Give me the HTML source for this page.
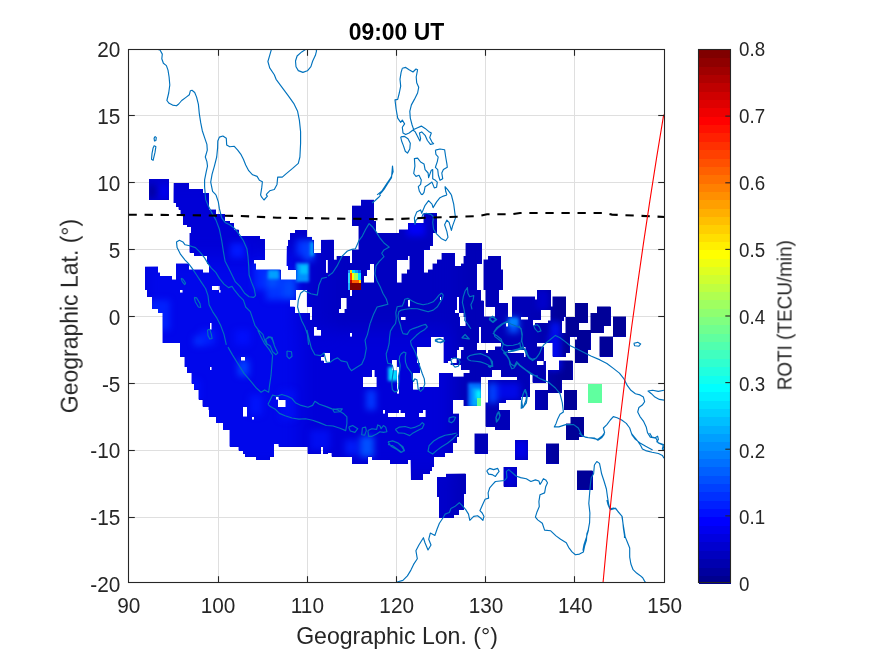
<!DOCTYPE html><html><head><meta charset="utf-8"><title>ROTI map</title>
<style>html,body{margin:0;padding:0;background:#fff}svg{display:block}text{font-family:"Liberation Sans",sans-serif;fill:#262626}.tx{filter:url(#idf)}</style></head><body>
<svg width="875" height="656" viewBox="0 0 875 656">
<defs><filter id="idf" x="0" y="0" width="875" height="656" filterUnits="userSpaceOnUse" color-interpolation-filters="sRGB"><feOffset dx="0" dy="0"/></filter></defs>
<rect x="0" y="0" width="875" height="656" fill="#fff"/>
<g stroke="#dfdfdf" stroke-width="1" shape-rendering="crispEdges">
<line x1="218.5" y1="49.5" x2="218.5" y2="582.5"/>
<line x1="307.5" y1="49.5" x2="307.5" y2="582.5"/>
<line x1="396.5" y1="49.5" x2="396.5" y2="582.5"/>
<line x1="485.5" y1="49.5" x2="485.5" y2="582.5"/>
<line x1="574.5" y1="49.5" x2="574.5" y2="582.5"/>
<line x1="128.5" y1="517.5" x2="664.5" y2="517.5"/>
<line x1="128.5" y1="450.5" x2="664.5" y2="450.5"/>
<line x1="128.5" y1="383.5" x2="664.5" y2="383.5"/>
<line x1="128.5" y1="316.5" x2="664.5" y2="316.5"/>
<line x1="128.5" y1="249.5" x2="664.5" y2="249.5"/>
<line x1="128.5" y1="182.5" x2="664.5" y2="182.5"/>
<line x1="128.5" y1="115.5" x2="664.5" y2="115.5"/>
</g>
<clipPath id="cp"><rect x="128.5" y="49.5" width="536.0" height="533.0"/></clipPath>
<g clip-path="url(#cp)">
<path id="blob" d="M149 179H169V183H149ZM149 183H169V189H149ZM173.5 183H189V189H173.5ZM149 189H169V193H149ZM173.5 189H203V193H173.5ZM149 193H169V199.5H149ZM173.5 193H209V199.5H173.5ZM173.5 199.5H209V203H173.5ZM361 199.5H374V203H361ZM176 203H209V205.5H176ZM361 203H374V205.5H361ZM176 205.5H209V206.5H176ZM352 205.5H374V206.5H352ZM178.5 206.5H209V209.5H178.5ZM352 206.5H374V209.5H352ZM180.5 209.5H216V213H180.5ZM352 209.5H374V213H352ZM180.5 213H216V214H180.5ZM352 213H374V214H352ZM423.5 213H437V214H423.5ZM183 214H225V221H183ZM352 214H374V221H352ZM423.5 214H437V221H423.5ZM183 221H229.5V223H183ZM352 221H376V223H352ZM423.5 221H437V223H423.5ZM183 223H234V225H183ZM352 223H376V225H352ZM408 223H437V225H408ZM187 225H234V226H187ZM352 225H376V226H352ZM408 225H437V226H408ZM187 226H234V226.5H187ZM358.5 226H376V226.5H358.5ZM408 226H437V226.5H408ZM191 226.5H234V229.5H191ZM358.5 226.5H376V229.5H358.5ZM408 226.5H437V229.5H408ZM191 229.5H238.5V233H191ZM294.5 229.5H307V233H294.5ZM358.5 229.5H376V233H358.5ZM399 229.5H437V233H399ZM189.5 233H238.5V236H189.5ZM290 233H307V236H290ZM358.5 233H432.5V236H358.5ZM189.5 236H260V236.5H189.5ZM290 236H307V236.5H290ZM358.5 236H432.5V236.5H358.5ZM189.5 236.5H260V239H189.5ZM290 236.5H312V239H290ZM358.5 236.5H432.5V239H358.5ZM189.5 239H265V239.5H189.5ZM290 239H312V239.5H290ZM358.5 239H432.5V239.5H358.5ZM189.5 239.5H265V243H189.5ZM288 239.5H313.5V243H288ZM321 239.5H333.5V243H321ZM358.5 239.5H432.5V243H358.5ZM189.5 243H265V246H189.5ZM288 243H313.5V246H288ZM321 243H333.5V246H321ZM358.5 243H432.5V246H358.5ZM465.5 243H481.5V246H465.5ZM189.5 246H265V249.5H189.5ZM286.5 246H313.5V249.5H286.5ZM321 246H333.5V249.5H321ZM358.5 246H429.5V249.5H358.5ZM465.5 246H481.5V249.5H465.5ZM189.5 249.5H265V252.5H189.5ZM286.5 249.5H313.5V252.5H286.5ZM321 249.5H333.5V252.5H321ZM352 249.5H423.5V252.5H352ZM465.5 249.5H481.5V252.5H465.5ZM194 252.5H265V253H194ZM286.5 252.5H313.5V253H286.5ZM321 252.5H333.5V253H321ZM352 252.5H423.5V253H352ZM465.5 252.5H481.5V253H465.5ZM194 253H265V256H194ZM286.5 253H333.5V256H286.5ZM352 253H423.5V256H352ZM441.5 253H454.5V256H441.5ZM465.5 253H481.5V256H465.5ZM207 256H265V259.5H207ZM286.5 256H333.5V259.5H286.5ZM336.5 256H350V259.5H336.5ZM352 256H408V259.5H352ZM409.5 256H423.5V259.5H409.5ZM441.5 256H454.5V259.5H441.5ZM463.5 256H481.5V259.5H463.5ZM488 256H501V259.5H488ZM207 259.5H254V263H207ZM286.5 259.5H325.5V263H286.5ZM327.5 259.5H350V263H327.5ZM352 259.5H397V263H352ZM409.5 259.5H423.5V263H409.5ZM437 259.5H454.5V263H437ZM463.5 259.5H481.5V263H463.5ZM483.5 259.5H501V263H483.5ZM207 263H254V263.5H207ZM286.5 263H325.5V263.5H286.5ZM327.5 263H397V263.5H327.5ZM409.5 263H423.5V263.5H409.5ZM437 263H454.5V263.5H437ZM463.5 263H481.5V263.5H463.5ZM483.5 263H501V263.5H483.5ZM176 263.5H189V266H176ZM209 263.5H256V266H209ZM286.5 263.5H325.5V266H286.5ZM327.5 263.5H369.5V266H327.5ZM374 263.5H397V266H374ZM409.5 263.5H423.5V266H409.5ZM432.5 263.5H454.5V266H432.5ZM461 263.5H476.5V266H461ZM483.5 263.5H501V266H483.5ZM176 266H189V266.5H176ZM209 266H256V266.5H209ZM288 266H325.5V266.5H288ZM327.5 266H369.5V266.5H327.5ZM374 266H397V266.5H374ZM409.5 266H423.5V266.5H409.5ZM432.5 266H476.5V266.5H432.5ZM483.5 266H501V266.5H483.5ZM145 266.5H158V269.5H145ZM176 266.5H189V269.5H176ZM209 266.5H256V269.5H209ZM288 266.5H325.5V269.5H288ZM327.5 266.5H369.5V269.5H327.5ZM374 266.5H397V269.5H374ZM409.5 266.5H423.5V269.5H409.5ZM432.5 266.5H476.5V269.5H432.5ZM483.5 266.5H501V269.5H483.5ZM145 269.5H158V272.5H145ZM176 269.5H203V272.5H176ZM209 269.5H280.5V272.5H209ZM296 269.5H325.5V272.5H296ZM327.5 269.5H366.5V272.5H327.5ZM374 269.5H397V272.5H374ZM407 269.5H423.5V272.5H407ZM428 269.5H476.5V272.5H428ZM483.5 269.5H503V272.5H483.5ZM145 272.5H160V273.5H145ZM176 272.5H280.5V273.5H176ZM296 272.5H366.5V273.5H296ZM374 272.5H397V273.5H374ZM407 272.5H476.5V273.5H407ZM483.5 272.5H503V273.5H483.5ZM145 273.5H160V276H145ZM176 273.5H280.5V276H176ZM296 273.5H366.5V276H296ZM374 273.5H397V276H374ZM401.5 273.5H476.5V276H401.5ZM483.5 273.5H503V276H483.5ZM145 276H172V279.5H145ZM176 276H280.5V279.5H176ZM296 276H364V279.5H296ZM374 276H397V279.5H374ZM401.5 276H476.5V279.5H401.5ZM483.5 276H503V279.5H483.5ZM145 279.5H364V282.5H145ZM374 279.5H397V282.5H374ZM401.5 279.5H476.5V282.5H401.5ZM483.5 279.5H503V282.5H483.5ZM145 282.5H476.5V286H145ZM483.5 282.5H503V286H483.5ZM145 286H212V290H145ZM219.5 286H476.5V290H219.5ZM483.5 286H503V290H483.5ZM147 290H180V292.5H147ZM182.5 290H218.5V292.5H182.5ZM220.5 290H296V292.5H220.5ZM306.5 290H350V292.5H306.5ZM352 290H481V292.5H352ZM485.5 290H499V292.5H485.5ZM537 290H550.5V292.5H537ZM147 292.5H296V296H147ZM306.5 292.5H350V296H306.5ZM352 292.5H481V296H352ZM485.5 292.5H499V296H485.5ZM537 292.5H550.5V296H537ZM147 296H296V296.5H147ZM306.5 296H481V296.5H306.5ZM485.5 296H499V296.5H485.5ZM537 296H550.5V296.5H537ZM152 296.5H296V298H152ZM306.5 296.5H439.5V298H306.5ZM441 296.5H456.5V298H441ZM459 296.5H481V298H459ZM485.5 296.5H499V298H485.5ZM512 296.5H535V298H512ZM537 296.5H550.5V298H537ZM552.5 296.5H566V298H552.5ZM152 298H296V299.5H152ZM306.5 298H341V299.5H306.5ZM346.5 298H439.5V299.5H346.5ZM441 298H456.5V299.5H441ZM459 298H481V299.5H459ZM485.5 298H499V299.5H485.5ZM512 298H535V299.5H512ZM537 298H550.5V299.5H537ZM552.5 298H566V299.5H552.5ZM152 299.5H296V300H152ZM306.5 299.5H341V300H306.5ZM346.5 299.5H439.5V300H346.5ZM441 299.5H456.5V300H441ZM459 299.5H481V300H459ZM485.5 299.5H499V300H485.5ZM512 299.5H550.5V300H512ZM552.5 299.5H566V300H552.5ZM152 300H290V300.5H152ZM306.5 300H341V300.5H306.5ZM346.5 300H408V300.5H346.5ZM410 300H456.5V300.5H410ZM459 300H481V300.5H459ZM485.5 300H499V300.5H485.5ZM512 300H550.5V300.5H512ZM552.5 300H566V300.5H552.5ZM152 300.5H290V303H152ZM306.5 300.5H341V303H306.5ZM346.5 300.5H408V303H346.5ZM410 300.5H456.5V303H410ZM459 300.5H483.5V303H459ZM485.5 300.5H499V303H485.5ZM512 300.5H550.5V303H512ZM552.5 300.5H566V303H552.5ZM152 303H290V306.5H152ZM306.5 303H341V306.5H306.5ZM346.5 303H408V306.5H346.5ZM410 303H456.5V306.5H410ZM459 303H483.5V306.5H459ZM485.5 303H508V306.5H485.5ZM512 303H550.5V306.5H512ZM552.5 303H566V306.5H552.5ZM575 303H588V306.5H575ZM152 306.5H294.5V309H152ZM312 306.5H341V309H312ZM346.5 306.5H456.5V309H346.5ZM459 306.5H483.5V309H459ZM495 306.5H508V309H495ZM512 306.5H566V309H512ZM575 306.5H588V309H575ZM597 306.5H610.5V309H597ZM158 309H294.5V310H158ZM312 309H338.5V310H312ZM344.5 309H456.5V310H344.5ZM459 309H483.5V310H459ZM495 309H508V310H495ZM512 309H566V310H512ZM575 309H588V310H575ZM597 309H610.5V310H597ZM158 310H294.5V313H158ZM312 310H338.5V313H312ZM344.5 310H454.5V313H344.5ZM459 310H483.5V313H459ZM495 310H508V313H495ZM512 310H541V313H512ZM550.5 310H566V313H550.5ZM575 310H588V313H575ZM597 310H610.5V313H597ZM162.5 313H309.5V316.5H162.5ZM312 313H459V316.5H312ZM463.5 313H483.5V316.5H463.5ZM495 313H508V316.5H495ZM512 313H541V316.5H512ZM550.5 313H566V316.5H550.5ZM575 313H588V316.5H575ZM590.5 313H610.5V316.5H590.5ZM162.5 316.5H309.5V317H162.5ZM312 316.5H401V317H312ZM405.5 316.5H459V317H405.5ZM463.5 316.5H508V317H463.5ZM512 316.5H541V317H512ZM550.5 316.5H563.5V317H550.5ZM575 316.5H588V317H575ZM590.5 316.5H610.5V317H590.5ZM613 316.5H626V317H613ZM162.5 317H309.5V319.5H162.5ZM312 317H401V319.5H312ZM405.5 317H459.5V319.5H405.5ZM465.5 317H521V319.5H465.5ZM528 317H541V319.5H528ZM550.5 317H563.5V319.5H550.5ZM565.5 317H588V319.5H565.5ZM590.5 317H610.5V319.5H590.5ZM613 317H626V319.5H613ZM162.5 319.5H401V320H162.5ZM405.5 319.5H459.5V320H405.5ZM465.5 319.5H532.5V320H465.5ZM550.5 319.5H563.5V320H550.5ZM565.5 319.5H588V320H565.5ZM590.5 319.5H610.5V320H590.5ZM613 319.5H626V320H613ZM162.5 320H459.5V320.5H162.5ZM465.5 320H532.5V320.5H465.5ZM550.5 320H563.5V320.5H550.5ZM565.5 320H588V320.5H565.5ZM590.5 320H610.5V320.5H590.5ZM613 320H626V320.5H613ZM162.5 320.5H459.5V323H162.5ZM465.5 320.5H532.5V323H465.5ZM548 320.5H561.5V323H548ZM565.5 320.5H588V323H565.5ZM590.5 320.5H610.5V323H590.5ZM613 320.5H626V323H613ZM162.5 323H209.5V325.5H162.5ZM211.5 323H459.5V325.5H211.5ZM465.5 323H505.5V325.5H465.5ZM508 323H532.5V325.5H508ZM535 323H561.5V325.5H535ZM565.5 323H579V325.5H565.5ZM590.5 323H610.5V325.5H590.5ZM613 323H626V325.5H613ZM162.5 325.5H209.5V326H162.5ZM211.5 325.5H459.5V326H211.5ZM465.5 325.5H505.5V326H465.5ZM508 325.5H561.5V326H508ZM565.5 325.5H579V326H565.5ZM590.5 325.5H610.5V326H590.5ZM613 325.5H626V326H613ZM162.5 326H209.5V326.5H162.5ZM211.5 326H505.5V326.5H211.5ZM508 326H561.5V326.5H508ZM565.5 326H579V326.5H565.5ZM590.5 326H603.5V326.5H590.5ZM613 326H626V326.5H613ZM162.5 326.5H209.5V329.5H162.5ZM211.5 326.5H314V329.5H211.5ZM316.5 326.5H479V329.5H316.5ZM481 326.5H561.5V329.5H481ZM565.5 326.5H579V329.5H565.5ZM590.5 326.5H603.5V329.5H590.5ZM613 326.5H626V329.5H613ZM162.5 329.5H314V330H162.5ZM321 329.5H479V330H321ZM481 329.5H561.5V330H481ZM565.5 329.5H579V330H565.5ZM590.5 329.5H603.5V330H590.5ZM613 329.5H626V330H613ZM162.5 330H314V333H162.5ZM321 330H479V333H321ZM481 330H561.5V333H481ZM565.5 330H603.5V333H565.5ZM613 330H626V333H613ZM162.5 333H314V335.5H162.5ZM321 333H349.5V335.5H321ZM352 333H479V335.5H352ZM481 333H590.5V335.5H481ZM613 333H626V335.5H613ZM162.5 335.5H349.5V336.5H162.5ZM352 335.5H479V336.5H352ZM481 335.5H590.5V336.5H481ZM613 335.5H626V336.5H613ZM162.5 336.5H430.5V339.5H162.5ZM443.5 336.5H479V339.5H443.5ZM481 336.5H569.5V339.5H481ZM577 336.5H590.5V339.5H577ZM599.5 336.5H613V339.5H599.5ZM162.5 339.5H430.5V343H162.5ZM443.5 339.5H479V343H443.5ZM481 339.5H569.5V343H481ZM575 339.5H590.5V343H575ZM599.5 339.5H613V343H599.5ZM180 343H430.5V346.5H180ZM443.5 343H477V346.5H443.5ZM501 343H537V346.5H501ZM552.5 343H569.5V346.5H552.5ZM575 343H590.5V346.5H575ZM599.5 343H613V346.5H599.5ZM180 346.5H417V349.5H180ZM443.5 346.5H459V349.5H443.5ZM463.5 346.5H477V349.5H463.5ZM495 346.5H524V349.5H495ZM525.5 346.5H543.5V349.5H525.5ZM552.5 346.5H569.5V349.5H552.5ZM575 346.5H590.5V349.5H575ZM599.5 346.5H613V349.5H599.5ZM180 349.5H417V350H180ZM443.5 349.5H459V350H443.5ZM463.5 349.5H477V350H463.5ZM495 349.5H524V350H495ZM525.5 349.5H543.5V350H525.5ZM552.5 349.5H569.5V350H552.5ZM575 349.5H588V350H575ZM599.5 349.5H613V350H599.5ZM180 350H417V353H180ZM443.5 350H456.5V353H443.5ZM461 350H485.5V353H461ZM488 350H508V353H488ZM525.5 350H543.5V353H525.5ZM552.5 350H569.5V353H552.5ZM575 350H588V353H575ZM599.5 350H613V353H599.5ZM180 353H323.5V356.5H180ZM330 353H417V356.5H330ZM443.5 353H456.5V356.5H443.5ZM461 353H524V356.5H461ZM525.5 353H543.5V356.5H525.5ZM552.5 353H565.5V356.5H552.5ZM575 353H588V356.5H575ZM599.5 353H613V356.5H599.5ZM184.5 356.5H240.5V357H184.5ZM245 356.5H321V357H245ZM330 356.5H417V357H330ZM443.5 356.5H456.5V357H443.5ZM461 356.5H524V357H461ZM525.5 356.5H543.5V357H525.5ZM575 356.5H588V357H575ZM184.5 357H240.5V357.5H184.5ZM245 357H321V357.5H245ZM330 357H417V357.5H330ZM443.5 357H456.5V357.5H443.5ZM461 357H543.5V357.5H461ZM575 357H588V357.5H575ZM184.5 357.5H240.5V358.5H184.5ZM245 357.5H321V358.5H245ZM330 357.5H417V358.5H330ZM443.5 357.5H450.5V358.5H443.5ZM461 357.5H543.5V358.5H461ZM575 357.5H588V358.5H575ZM184.5 358.5H240.5V359.5H184.5ZM245 358.5H321V359.5H245ZM330 358.5H417V359.5H330ZM443.5 358.5H450.5V359.5H443.5ZM456.5 358.5H543.5V359.5H456.5ZM575 358.5H588V359.5H575ZM184.5 359.5H240.5V360.5H184.5ZM245 359.5H321V360.5H245ZM330 359.5H392V360.5H330ZM397 359.5H417V360.5H397ZM443.5 359.5H450.5V360.5H443.5ZM456.5 359.5H543.5V360.5H456.5ZM575 359.5H588V360.5H575ZM184.5 360.5H323.5V361H184.5ZM330 360.5H392V361H330ZM397 360.5H417V361H397ZM443.5 360.5H450.5V361H443.5ZM456.5 360.5H543.5V361H456.5ZM559 360.5H572.5V361H559ZM575 360.5H588V361H575ZM184.5 361H323.5V363H184.5ZM330 361H392V363H330ZM397 361H417V363H397ZM443.5 361H448V363H443.5ZM456.5 361H537V363H456.5ZM543.5 361H545.5V363H543.5ZM559 361H572.5V363H559ZM575 361H588V363H575ZM184.5 363H392V365H184.5ZM397 363H419.5V365H397ZM450.5 363H537V365H450.5ZM543.5 363H545.5V365H543.5ZM559 363H572.5V365H559ZM184.5 365H392V367H184.5ZM397 365H419.5V367H397ZM461 365H545.5V367H461ZM559 365H572.5V367H559ZM187 367H209.5V370H187ZM211.5 367H392V370H211.5ZM399 367H419.5V370H399ZM461 367H545.5V370H461ZM559 367H572.5V370H559ZM187 370H371.5V370.5H187ZM374.5 370H392V370.5H374.5ZM399 370H419.5V370.5H399ZM469.5 370H492V370.5H469.5ZM501 370H545.5V370.5H501ZM548 370H572.5V370.5H548ZM187 370.5H371.5V373H187ZM374.5 370.5H397V373H374.5ZM399 370.5H419.5V373H399ZM469.5 370.5H492V373H469.5ZM501 370.5H545.5V373H501ZM548 370.5H572.5V373H548ZM191.5 373H371.5V373.5H191.5ZM374.5 373H397V373.5H374.5ZM399 373H412.5V373.5H399ZM439 373H452.5V373.5H439ZM463.5 373H492V373.5H463.5ZM501 373H545.5V373.5H501ZM548 373H572.5V373.5H548ZM191.5 373.5H371.5V376.5H191.5ZM374.5 373.5H397V376.5H374.5ZM399 373.5H412.5V376.5H399ZM439 373.5H452.5V376.5H439ZM463.5 373.5H492V376.5H463.5ZM501 373.5H529.5V376.5H501ZM532.5 373.5H545.5V376.5H532.5ZM548 373.5H572.5V376.5H548ZM191.5 376.5H371.5V377H191.5ZM374.5 376.5H397V377H374.5ZM399 376.5H412.5V377H399ZM439 376.5H481V377H439ZM517 376.5H529.5V377H517ZM532.5 376.5H545.5V377H532.5ZM548 376.5H572.5V377H548ZM191.5 377H363V380H191.5ZM376.5 377H397V380H376.5ZM399 377H412.5V380H399ZM439 377H481V380H439ZM517 377H529.5V380H517ZM532.5 377H545.5V380H532.5ZM548 377H572.5V380H548ZM191.5 380H363V382.5H191.5ZM376.5 380H397V382.5H376.5ZM399 380H412.5V382.5H399ZM439 380H481V382.5H439ZM488 380H529.5V382.5H488ZM532.5 380H545.5V382.5H532.5ZM548 380H561.5V382.5H548ZM191.5 382.5H363V383.5H191.5ZM376.5 382.5H397V383.5H376.5ZM399 382.5H412.5V383.5H399ZM439 382.5H481V383.5H439ZM488 382.5H529.5V383.5H488ZM548 382.5H561.5V383.5H548ZM194 383.5H363V387H194ZM376.5 383.5H397V387H376.5ZM399 383.5H412.5V387H399ZM439 383.5H481V387H439ZM488 383.5H529.5V387H488ZM548 383.5H561.5V387H548ZM194 387H397V389.5H194ZM399 387H412.5V389.5H399ZM419.5 387H481V389.5H419.5ZM488 387H529.5V389.5H488ZM548 387H561.5V389.5H548ZM198.5 389.5H397V390H198.5ZM399 389.5H481V390H399ZM488 389.5H529.5V390H488ZM548 389.5H561.5V390H548ZM198.5 390H397V393H198.5ZM399 390H481V393H399ZM488 390H529.5V393H488ZM535 390H561.5V393H535ZM564 390H577V393H564ZM198.5 393H397V393.5H198.5ZM399 393H481V393.5H399ZM488 393H529.5V393.5H488ZM535 393H548V393.5H535ZM564 393H577V393.5H564ZM198.5 393.5H481V396.5H198.5ZM488 393.5H529.5V396.5H488ZM535 393.5H548V396.5H535ZM564 393.5H577V396.5H564ZM198.5 396.5H481V397H198.5ZM488 396.5H521V397H488ZM535 396.5H548V397H535ZM564 396.5H577V397H564ZM198.5 397H276V399.5H198.5ZM278.5 397H481V399.5H278.5ZM488 397H521V399.5H488ZM535 397H548V399.5H535ZM564 397H577V399.5H564ZM203 399.5H278V400H203ZM285.5 399.5H452.5V400H285.5ZM463.5 399.5H481V400H463.5ZM488 399.5H505.5V400H488ZM535 399.5H548V400H535ZM564 399.5H577V400H564ZM202.5 400H278V402.5H202.5ZM285.5 400H452.5V402.5H285.5ZM463.5 400H481V402.5H463.5ZM488 400H505.5V402.5H488ZM535 400H548V402.5H535ZM564 400H577V402.5H564ZM202.5 402.5H278V406H202.5ZM285.5 402.5H452.5V406H285.5ZM463.5 402.5H481V406H463.5ZM485.5 402.5H499V406H485.5ZM535 402.5H548V406H535ZM564 402.5H577V406H564ZM202.5 406H278V406.5H202.5ZM285.5 406H452.5V406.5H285.5ZM485.5 406H499V406.5H485.5ZM535 406H548V406.5H535ZM564 406H577V406.5H564ZM203 406.5H278V407H203ZM285.5 406.5H452.5V407H285.5ZM485.5 406.5H499V407H485.5ZM535 406.5H548V407H535ZM564 406.5H577V407H564ZM208.5 407H242.5V410H208.5ZM247 407H452.5V410H247ZM485.5 407H499V410H485.5ZM535 407H548V410H535ZM564 407H577V410H564ZM209 410H242.5V413H209ZM247 410H383V413H247ZM385 410H398.5V413H385ZM400.5 410H423V413H400.5ZM425.5 410H452.5V413H425.5ZM485.5 410H510V413H485.5ZM209 413H242.5V413.5H209ZM247 413H383V413.5H247ZM385 413H387.5V413.5H385ZM405 413H419V413.5H405ZM425.5 413H452.5V413.5H425.5ZM485.5 413H510V413.5H485.5ZM209 413.5H242.5V416.5H209ZM247 413.5H387.5V416.5H247ZM405 413.5H419V416.5H405ZM425.5 413.5H459V416.5H425.5ZM485.5 413.5H510V416.5H485.5ZM216 416.5H387.5V417H216ZM405 416.5H419V417H405ZM425.5 416.5H459V417H425.5ZM485.5 416.5H510V417H485.5ZM216 417H251.5V419.5H216ZM254 417H459V419.5H254ZM485.5 417H510V419.5H485.5ZM570.5 417H584V419.5H570.5ZM216 419.5H459V423H216ZM485.5 419.5H510V423H485.5ZM570.5 419.5H584V423H570.5ZM223 423H459V423.5H223ZM485.5 423H510V423.5H485.5ZM570.5 423H584V423.5H570.5ZM223 423.5H459V426.5H223ZM485.5 423.5H510V426.5H485.5ZM566 423.5H584V426.5H566ZM223 426.5H459V429H223ZM495 426.5H510V429H495ZM566 426.5H584V429H566ZM223 429H458.5V430H223ZM495 429H510V430H495ZM566 429H584V430H566ZM229.5 430H458.5V433.5H229.5ZM566 430H584V433.5H566ZM229.5 433.5H458.5V436.5H229.5ZM474.5 433.5H488V436.5H474.5ZM566 433.5H584V436.5H566ZM229.5 436.5H457V440H229.5ZM474.5 436.5H488V440H474.5ZM566 436.5H579V440H566ZM229.5 440H457V443H229.5ZM474.5 440H488V443H474.5ZM515 440H528V443H515ZM229.5 443H452.5V443.5H229.5ZM474.5 443H488V443.5H474.5ZM515 443H528V443.5H515ZM229.5 443.5H452.5V444H229.5ZM474.5 443.5H488V444H474.5ZM515 443.5H528V444H515ZM546 443.5H559V444H546ZM229.5 444H274V446.5H229.5ZM278.5 444H452.5V446.5H278.5ZM474.5 444H488V446.5H474.5ZM515 444H528V446.5H515ZM546 444H559V446.5H546ZM238.5 446.5H274V450.5H238.5ZM307.5 446.5H320.5V450.5H307.5ZM323 446.5H452.5V450.5H323ZM474.5 446.5H488V450.5H474.5ZM515 446.5H528V450.5H515ZM546 446.5H559V450.5H546ZM243 450.5H274V453H243ZM307.5 450.5H320.5V453H307.5ZM323 450.5H452.5V453H323ZM474.5 450.5H488V453H474.5ZM515 450.5H528V453H515ZM546 450.5H559V453H546ZM243 453H274V453.5H243ZM307.5 453H320.5V453.5H307.5ZM323 453H328V453.5H323ZM331.5 453H445V453.5H331.5ZM474.5 453H488V453.5H474.5ZM515 453H528V453.5H515ZM546 453H559V453.5H546ZM245 453.5H274V456.5H245ZM331.5 453.5H445V456.5H331.5ZM515 453.5H528V456.5H515ZM546 453.5H559V456.5H546ZM256 456.5H269.5V460H256ZM352 456.5H367.5V460H352ZM372 456.5H434V460H372ZM515 456.5H528V460H515ZM546 456.5H559V460H546ZM352 460H367.5V463.5H352ZM390 460H407.5V463.5H390ZM410.5 460H434V463.5H410.5ZM546 460H559V463.5H546ZM410.5 463.5H434V466.5H410.5ZM410.5 466.5H432V467H410.5ZM410.5 467H432V470.5H410.5ZM503.5 467H517V470.5H503.5ZM410.5 470.5H429.5V473.5H410.5ZM503.5 470.5H517V473.5H503.5ZM577 470.5H592.5V473.5H577ZM410.5 473.5H423V477H410.5ZM446 473.5H465.5V477H446ZM503.5 473.5H517V477H503.5ZM577 473.5H592.5V477H577ZM410.5 477H423V480H410.5ZM437 477H465.5V480H437ZM503.5 477H517V480H503.5ZM577 477H592.5V480H577ZM437 480H465.5V486.5H437ZM503.5 480H517V486.5H503.5ZM577 480H592.5V486.5H577ZM437 486.5H465.5V489.5H437ZM577 486.5H592.5V489.5H577ZM437 489.5H465.5V493.5H437ZM437 493.5H463.5V497H437ZM439 497H463.5V509.5H439ZM439 509.5H458.5V514.5H439ZM439 514.5H454V518H439Z" fill="#0000cc" shape-rendering="crispEdges"/>
<defs><clipPath id="bc"><use href="#blob"/></clipPath><filter color-interpolation-filters="sRGB" id="b8" x="-30%" y="-30%" width="160%" height="160%"><feGaussianBlur stdDeviation="9"/></filter><filter color-interpolation-filters="sRGB" id="b3" x="-30%" y="-30%" width="160%" height="160%"><feGaussianBlur stdDeviation="3.2"/></filter><filter color-interpolation-filters="sRGB" id="b2" x="-30%" y="-30%" width="160%" height="160%"><feGaussianBlur stdDeviation="1.8"/></filter></defs>
<g clip-path="url(#bc)">
<g filter="url(#b8)">
<rect x="140" y="250" width="160" height="220" fill="#0008ee" opacity="0.9"/>
<rect x="150" y="180" width="110" height="80" fill="#0000d8" opacity="0.9"/>
<rect x="330" y="200" width="120" height="130" fill="#0000c0" opacity="0.9"/>
<rect x="455" y="230" width="93" height="310" fill="#0000b6" opacity="0.95"/>
<rect x="548" y="270" width="102" height="270" fill="#000098" opacity="1"/>
<rect x="300" y="330" width="150" height="140" fill="#0000dc" opacity="0.8"/>
</g>
<g filter="url(#b3)">
<rect x="230" y="243" width="15" height="15" fill="#0018ff" opacity="1"/>
<rect x="254" y="263" width="13" height="27" fill="#0028ff" opacity="1"/>
<rect x="296" y="240" width="17" height="16" fill="#0030ff" opacity="1"/>
<rect x="266" y="272" width="30" height="28" fill="#0034ff" opacity="1"/>
<rect x="283" y="280" width="13" height="18" fill="#0048ff" opacity="1"/>
<rect x="267" y="270" width="11" height="17" fill="#0050ff" opacity="1"/>
<rect x="303" y="240" width="11" height="21" fill="#0040ff" opacity="1"/>
<rect x="194" y="336" width="13" height="10" fill="#0030ff" opacity="1"/>
<rect x="200" y="330" width="15" height="15" fill="#0020ff" opacity="0.8"/>
<rect x="238" y="360" width="11" height="16" fill="#0040ff" opacity="1"/>
<rect x="366" y="390" width="10" height="20" fill="#0038ff" opacity="1"/>
<rect x="360" y="436" width="14" height="21" fill="#0050ff" opacity="1"/>
<rect x="345" y="440" width="13" height="15" fill="#0020ff" opacity="0.8"/>
<rect x="508" y="317" width="11" height="16" fill="#0058ff" opacity="1"/>
<rect x="550" y="322" width="11" height="14" fill="#0010f0" opacity="1"/>
<rect x="488" y="383" width="9" height="20" fill="#0044ff" opacity="1"/>
<rect x="497" y="383" width="23" height="17" fill="#0008e8" opacity="1"/>
<rect x="150" y="300" width="20" height="30" fill="#0024ff" opacity="0.9"/>
<rect x="160" y="185" width="8" height="13" fill="#0000f0" opacity="1"/>
<rect x="148" y="185" width="8" height="13" fill="#0000a0" opacity="1"/>
<rect x="235" y="330" width="15" height="15" fill="#0010ff" opacity="0.8"/>
<rect x="280" y="390" width="15" height="30" fill="#0010f8" opacity="0.8"/>
<rect x="250" y="395" width="12" height="20" fill="#0018ff" opacity="0.8"/>
<rect x="180" y="380" width="20" height="20" fill="#0010ff" opacity="0.8"/>
<rect x="310" y="430" width="20" height="20" fill="#0010f8" opacity="0.8"/>
<rect x="536" y="290" width="13" height="20" fill="#0000cc" opacity="1"/>
<rect x="407" y="222" width="18" height="14" fill="#0000f8" opacity="1"/>
<rect x="548" y="335" width="13" height="35" fill="#0008ee" opacity="1"/>
<rect x="503" y="466" width="14" height="21" fill="#0000d8" opacity="1"/>
<rect x="514" y="440" width="14" height="19" fill="#0000e8" opacity="1"/>
</g>
<g filter="url(#b2)">
<rect x="296" y="263" width="13" height="19" fill="#0090ff" opacity="1"/>
<rect x="300" y="265" width="8" height="9" fill="#00c0ff" opacity="1"/>
<rect x="268" y="270" width="11" height="9" fill="#00a0ff" opacity="1"/>
<rect x="388" y="367" width="10" height="14" fill="#00b8ff" opacity="1"/>
<rect x="390" y="369" width="6" height="7" fill="#00e8ff" opacity="1"/>
<rect x="468" y="383" width="14" height="24" fill="#0070ff" opacity="1"/>
<rect x="472" y="388" width="10" height="19" fill="#00a8ff" opacity="1"/>
<rect x="476" y="390.5" width="6" height="8.5" fill="#00f0ff" opacity="1"/>
<rect x="389" y="368" width="8" height="12" fill="#00e0ff" opacity="1"/>
<rect x="509" y="318" width="9" height="8" fill="#0080ff" opacity="1"/>
<rect x="310" y="242" width="4" height="14" fill="#00a0ff" opacity="1"/>
</g>
</g>
<g shape-rendering="crispEdges">
<rect x="347.5" y="269.9" width="2.1" height="2.7" fill="#2080ff"/>
<rect x="349.6" y="269.9" width="2.1" height="2.7" fill="#ffe000"/>
<rect x="351.7" y="269.9" width="3.7" height="2.7" fill="#00e0ff"/>
<rect x="355.4" y="269.9" width="2.8" height="2.7" fill="#00a0ff"/>
<rect x="358.2" y="269.9" width="2.7" height="2.7" fill="#0060ff"/>
<rect x="347.5" y="272.6" width="2.4" height="10.3" fill="#30d8ff"/>
<rect x="347.5" y="282.9" width="2.4" height="6.9" fill="#20b0ff"/>
<rect x="349.9" y="272.6" width="2.1" height="7.6" fill="#ff4000"/>
<rect x="349.9" y="280.2" width="2.1" height="2.7" fill="#c00000"/>
<rect x="352" y="272.6" width="2.1" height="7.6" fill="#ffff00"/>
<rect x="354.1" y="272.6" width="4.1" height="7.6" fill="#a0ff60"/>
<rect x="358.2" y="272.6" width="2.7" height="7.6" fill="#00e0ff"/>
<rect x="352" y="280.2" width="6.9" height="2.7" fill="#ff6000"/>
<rect x="358.9" y="280.2" width="2.0" height="2.7" fill="#ffe000"/>
<rect x="349.9" y="282.9" width="11.0" height="6.9" fill="#800000"/>
<rect x="476.8" y="397.5" width="4.3" height="8.7" fill="#60ff90"/>
<rect x="588.1" y="383.5" width="13.6" height="19.6" fill="#60ff9f"/>
</g>
<path d="M156.6 49.1L160.0 50.0L162.3 54.1L161.8 58.7L163.4 63.3L166.4 65.6L168.0 70.1L169.1 77.0L169.8 85.0L168.7 93.0L166.9 100.5L169.1 103.3L172.6 105.1L176.5 105.8L178.7 104.0L181.7 100.5L186.3 97.1L189.3 94.8L190.4 90.7L192.0 90.3L194.7 92.5L196.6 97.1L198.4 104.4L199.3 113.6L200.7 122.7L202.3 130.7L204.6 137.6L206.9 144.4L207.3 150.1L205.3 157.0L206.9 161.6L207.5 166.1L206.2 171.9L204.6 179.9L204.6 186.7L205.3 194.9M216.0 194.9L212.6 191.3L210.7 182.1L212.1 174.1L214.4 166.1L216.7 157.0L217.6 147.9L217.8 141.0L219.4 137.1L222.9 136.0L226.3 138.3L226.7 145.1L229.7 146.7L234.3 146.3L237.7 150.1L241.1 154.7L243.4 159.3L245.7 165.0L248.7 170.7L252.6 174.8L257.1 176.4L259.4 180.3L262.4 181.7L261.7 187.9L260.6 194.9L261.7 197.2L264.0 200.0L267.4 196.1L266.3 194.9L267.0 193.6L269.7 190.8L274.3 189.5L277.0 184.4L277.7 177.1L282.3 177.1L285.7 174.1L292.6 168.4L298.3 163.4L299.9 157.0L300.6 143.3L300.6 131.9L299.4 120.4L297.6 111.3L293.7 103.3L288.0 95.3L281.1 86.1L276.1 79.3L274.3 74.7L269.7 67.9L267.9 61.5L269.7 55.3L271.5 49.1M306.3 49.1L301.7 51.9L297.1 56.0L295.5 61.0L296.0 66.7L298.3 70.6L302.9 72.4L307.4 70.8L310.9 66.7L312.7 61.0L315.4 55.3L316.6 50.7L315.4 48.7L306.3 49.1M155.0 136.4L156.3 137.6L155.9 140.5L154.5 141.0L154.1 138.3L155.0 136.4M154.3 145.6L155.9 146.7L155.0 152.4L153.1 160.4L151.5 159.3L152.0 153.6L153.1 147.9L154.3 145.6M402.3 68.3L405.7 67.4L409.1 69.7L413.0 72.0L416.0 69.0L417.6 69.7L416.2 77.0L416.7 82.7L418.7 87.3L417.6 93.0L414.4 99.4L411.4 104.9L409.8 111.3L410.3 118.1L412.1 125.0L413.7 129.6L417.6 127.7L421.3 126.1L425.1 128.4L428.6 131.4L431.3 133.0L429.7 137.6L432.0 142.1L433.6 143.7L430.4 144.4L427.4 140.5L425.1 135.3L421.7 131.9L419.4 133.0L420.6 138.7L419.9 141.0L417.6 136.4L415.3 131.9L413.0 130.0L409.1 133.0L405.7 134.6L403.0 133.0L402.3 127.3L404.6 123.9L402.3 120.0L400.7 122.3L397.7 118.1L396.1 109.0L395.0 99.9L397.7 99.4L399.3 93.0L400.7 86.1L400.0 79.3L401.1 72.4L402.3 68.3M400.7 136.9L404.6 136.4L408.0 138.7L410.3 143.3L409.8 149.0L407.5 153.1L405.3 151.3L403.4 145.6L401.6 141.0L400.7 136.9M435.4 150.1L440.0 149.0L444.6 149.7L445.7 157.0L446.9 163.9L447.3 167.3L443.4 169.6L441.8 173.0L442.7 178.7L440.0 180.3L438.4 175.3L437.7 169.6L435.4 167.3L437.3 161.6L438.2 157.0L435.9 154.3L435.4 150.1M421.7 194.9L419.4 191.3L418.3 186.7L420.6 184.4L421.3 179.9L419.0 175.3L416.0 176.4L413.7 173.5L414.9 166.1L414.4 158.6L417.6 158.1L420.6 162.0L424.0 163.9L425.1 169.6L428.1 173.0L428.6 177.6L431.3 170.3L432.7 169.6L432.7 178.7L435.4 180.3L437.3 182.1L436.6 187.2L434.3 187.9L432.0 182.1L428.6 184.4L425.1 186.7L424.0 192.4L422.2 194.9M377.1 194.9L381.7 191.3L386.3 184.4L390.9 177.6L393.1 171.9L392.5 166.1L391.5 177.6L387.9 183.3L384.0 189.5L379.4 194.9M446.9 194.9L445.7 191.3L445.0 186.7L448.0 190.1L451.4 194.9M205.3 195.0L205.7 199.6L208.0 205.3L211.4 212.1L216.0 220.1L219.4 229.3L221.7 240.7L223.5 252.1L225.1 261.3L228.6 268.1L232.0 275.0L235.4 281.9L240.0 286.4L244.6 293.3L249.1 296.7L253.7 297.4L255.5 295.6L254.2 288.7L251.4 281.9L249.1 275.0L248.7 265.9L248.0 256.7L246.9 248.7L243.4 240.7L238.9 233.9L234.3 228.1L229.7 224.7L225.1 222.4L221.7 217.9L219.4 208.7L218.3 201.9L216.0 195.0M267.4 344.9L265.1 341.3L262.9 334.4L258.3 329.9L254.9 325.3L252.6 318.4L250.3 311.6L245.7 307.0L243.4 300.1L238.9 295.6L234.3 289.9L232.0 286.4L228.6 287.6L224.0 284.1L219.4 278.4L216.0 272.7L211.4 268.1L208.0 263.6L204.6 257.9L200.0 252.1L195.4 247.6L189.7 245.7L185.1 244.8L182.9 241.9L179.4 240.3L176.5 241.9L177.1 247.6L180.6 254.4L185.1 260.1L188.6 263.6L192.0 268.1L196.6 275.0L201.1 281.9L205.7 288.7L208.0 295.6L209.1 304.7L212.6 311.6L217.1 318.4L220.6 325.3L224.0 334.4L226.3 344.9M181.0 278.4L182.9 279.1L185.6 283.0L184.7 284.6L182.4 281.9L181.0 278.4M194.3 297.4L196.6 297.9L200.0 303.6L200.7 307.5L198.4 307.0L195.4 302.0L194.3 297.4M207.5 329.9L209.8 329.4L211.4 334.4L212.1 338.5L209.8 339.0L208.0 335.6L207.5 329.9M265.1 340.1L268.6 336.7L272.0 337.2L274.3 344.9M326.9 277.3L321.8 278.4L318.9 285.3L317.3 295.1L310.9 293.7L304.0 290.5L300.6 293.3L298.3 300.1L297.6 307.0L299.4 313.9L301.7 320.7L305.1 327.6L307.4 334.4L308.6 344.9M328.0 276.1L332.6 272.7L337.1 265.9L341.7 256.7L347.4 251.0L352.0 249.4L355.4 248.7L358.9 240.7L362.3 236.1L365.7 229.3L369.1 223.6L372.6 227.0L376.0 231.6L379.4 237.3L384.0 243.0L389.3 247.1L384.0 249.9L381.7 253.3L384.0 256.7L379.4 261.3L376.0 265.9L374.9 273.9L377.1 280.7L380.1 286.4L382.9 293.3L386.3 299.0L387.9 304.3L381.7 305.9L377.1 307.0L373.7 313.9L370.3 323.0M414.9 224.7L414.4 217.9L416.7 212.1L420.6 209.9L421.7 213.3L425.1 205.3L428.6 200.7L432.0 204.1L433.1 207.6L436.6 201.9L440.0 197.7L443.4 196.1L446.9 195.0M451.4 195.0L453.7 204.1L454.9 213.3L455.5 217.9L452.6 225.9L451.4 230.4L449.1 222.4L446.9 220.1L444.6 224.7L446.9 231.6L448.0 237.3L445.7 240.7L441.1 238.4L436.6 233.9L433.6 229.3L432.7 222.4L433.6 216.7L430.9 214.4L426.3 213.3L422.9 214.4L421.7 217.9L418.3 217.9L416.0 220.1L414.9 224.7M372.1 203.0L374.9 200.7L378.7 197.3L380.6 195.0M470.9 328.7L467.0 323.0L464.7 320.3L465.1 316.1L464.0 309.3L462.4 302.4L463.3 296.7L465.1 291.0L467.4 287.6L467.9 293.3L469.7 296.7L473.8 295.6L473.1 300.1L470.9 304.7L472.0 309.3M489.1 319.6L492.6 316.1L496.7 319.6L493.0 322.5L489.1 319.6M461.7 337.9L465.1 334.4L469.3 339.0L461.7 337.9M435.4 339.5L440.0 338.5L444.6 340.8L440.0 342.4L435.4 341.3L435.4 339.5M493.7 332.0L497.1 327.4L501.7 324.0L506.3 321.7L510.9 324.0L516.6 326.3L521.1 328.6L522.3 334.3L521.8 341.1L523.4 346.9L517.7 349.1L510.9 350.7L505.1 352.6L501.7 349.1L503.5 343.4L499.4 340.0L494.9 336.6L493.7 332.0M523.4 346.9L525.7 352.6L529.1 358.3L532.6 360.6L536.0 358.3L539.4 353.7L541.7 348.0L544.0 344.6L549.7 340.0L555.4 335.4L560.0 337.7L564.6 341.1L570.3 345.7L577.1 349.1L584.0 352.6L590.9 356.0L600.0 359.9L606.9 363.5L613.7 368.6L619.4 373.1L624.0 378.9L627.4 385.7L630.9 390.3L635.4 393.7L640.0 394.9L643.4 397.1L644.6 401.7L642.3 405.1L638.9 407.4L637.7 412.0L640.0 416.6L643.4 421.1L646.2 426.9L647.5 432.6L650.3 437.1L656.0 438.3L658.3 442.9L662.9 445.1L664.0 448.6M505.1 352.6L508.6 358.3L510.9 364.0L514.3 366.3L516.6 361.7L520.0 365.1L525.7 369.7L532.6 374.3L540.6 378.9L548.6 382.3L555.4 388.0L560.0 393.7L562.3 402.9L563.4 412.0L560.0 414.3L557.7 418.9L556.1 423.4L554.3 426.9L558.9 426.9L565.7 424.6L573.7 424.6L578.3 428.0L581.7 434.9L585.1 437.1L592.0 438.3L597.7 439.4L602.3 436.0L604.6 432.6L603.4 428.0L606.9 424.6L610.3 420.0L613.3 416.6L617.1 417.7L621.7 420.0L626.3 423.4L629.7 428.0L632.0 434.9L635.4 439.4L640.0 442.9L645.7 446.3L652.6 449.9M664.0 390.3L658.3 391.4L652.6 390.3L648.0 391.0L651.4 393.7L654.9 397.1L659.4 399.4L664.0 400.1M633.8 343.4L637.7 342.3L640.7 343.9L638.9 346.2L634.7 345.7L633.8 343.4M533.7 325.6L537.1 324.7L539.4 327.0L541.0 330.9L537.8 332.0L534.9 328.6L533.7 325.6M489.1 318.3L492.6 317.1L496.0 319.4L492.6 321.7L489.1 318.3M524.6 390.3L527.3 396.0L526.4 402.9L522.7 407.9L521.8 401.7L522.7 394.9L524.6 390.3M498.3 412.0L499.9 416.6L497.6 421.1L496.0 417.7L498.3 412.0M488.0 357.1L490.7 359.9L492.1 365.1L490.3 367.4L488.0 366.3M228.0 347.1L232.6 355.1L238.3 364.3L244.0 373.4L250.9 381.4L256.6 388.3L261.1 392.2L264.6 389.9L268.7 392.2L269.6 384.9L271.0 375.7L271.9 364.3L272.6 355.1L269.1 349.4L264.6 343.7L261.1 336.9L257.7 330.0M265.7 339.1L270.3 336.9L272.6 340.3L274.9 347.1L277.8 352.9L276.0 354.7L272.6 351.7L270.3 346.0L266.9 343.7L265.7 339.1M287.0 351.0L291.5 351.7L292.0 356.3L289.3 358.6L287.0 356.3L287.0 351.0M268.0 404.3L272.6 395.1L277.1 396.3L281.7 394.5L287.4 396.3L292.0 398.6L295.4 402.7L301.1 405.4L308.0 407.3L312.6 405.4L314.9 401.3L319.4 404.3L326.3 406.6L332.0 408.9L337.7 410.0L343.4 413.4L346.9 416.9L346.9 423.7L345.7 430.6L340.0 428.3L333.1 426.0L326.3 425.5L319.4 422.6L312.6 420.3L305.7 418.7L298.9 419.1L292.0 418.0L285.1 415.7L279.4 413.4L274.9 408.9L270.3 406.6L268.0 404.3M332.7 409.5L337.7 408.9L342.3 408.9L340.0 411.8L334.3 412.3L332.7 409.5M306.9 330.0L309.1 339.1L311.4 348.3L314.9 354.7L320.6 355.6L324.0 352.9L326.3 362.0L329.7 362.5L334.3 359.3L337.7 357.9L341.1 360.9L346.9 362.0L349.1 367.7L351.4 370.7L356.0 367.7L361.7 364.3L364.7 357.4L366.3 348.3L365.1 340.3L367.4 334.6L370.2 323.1M348.7 427.1L352.6 425.5L357.8 428.7L354.9 432.4L350.3 431.0L348.7 427.1M362.4 427.8L365.6 427.1L366.3 430.6L364.7 435.1L361.7 434.7L362.4 427.8M367.9 430.6L372.0 428.7L376.6 429.4L377.7 424.9L380.0 426.0L381.1 428.7L383.4 425.5L385.7 427.1L386.9 431.7L383.4 432.4L380.0 431.7L376.6 434.0L372.0 436.3L368.6 436.3L367.9 430.6M395.3 429.4L399.4 427.1L405.1 426.5L410.9 428.3L415.4 427.1L420.0 424.9L422.3 422.6L424.1 424.2L422.3 428.3L417.7 430.6L413.1 432.9L409.7 435.6L404.0 433.3L398.3 432.9L395.3 429.4M388.0 442.0L392.6 440.9L398.3 443.1L402.9 446.6L404.5 450.7L400.6 452.3L396.0 448.9L391.4 446.6L388.0 442.0M397.1 582.0L402.9 580.4L407.4 575.9L410.9 570.1L413.6 564.4L417.3 558.7L415.9 550.7L418.9 545.0L423.4 537.7L425.0 542.7L428.0 550.0L431.0 545.0L428.7 539.3L430.3 533.1L434.9 535.4L437.1 529.0L439.4 523.3L442.9 518.0L445.1 514.1L449.3 512.5L450.9 508.4L454.7 506.6L459.3 502.7L462.3 505.7L465.7 509.6L468.5 514.1L469.8 520.3L473.7 516.4L477.6 515.7L480.6 518.0L482.9 520.3L484.0 516.4L482.2 513.0L479.9 510.7L482.9 503.9L485.1 499.3L488.6 498.1L488.1 492.9L489.7 487.9L492.7 484.4L495.4 481.5L500.0 481.0L504.6 480.5L506.9 477.6L506.4 471.4L508.7 469.6L512.6 473.0L516.0 476.0L520.6 477.6L526.3 478.7L530.9 481.5L535.4 479.9L538.9 481.0L540.0 484.4L541.6 482.1L543.4 478.7L545.7 479.9L547.5 482.8L545.7 486.7L544.6 492.9L540.0 494.7L538.9 501.6L539.3 506.6L537.0 511.9L535.4 517.1L537.7 519.9L542.3 523.3L544.6 530.1L550.7 530.8L556.0 535.9L560.6 539.3L566.3 542.7L568.6 547.3L572.0 551.9L575.4 554.8L579.5 554.1L583.4 551.9L584.6 546.1L586.4 540.4L586.9 533.6L588.0 530.8M486.7 470.7L489.7 468.4L493.6 469.6L497.7 468.4L499.1 471.4L497.3 473.7L495.4 476.4L492.0 474.6L488.6 474.1L486.7 470.7M388.0 441.7L392.6 441.0L398.3 443.3L401.7 446.7L404.0 450.1L401.7 452.4L397.1 449.0L392.6 445.6L388.0 444.4M456.6 433.0L452.0 434.1L445.1 435.3L439.4 437.6L433.7 441.0L429.1 445.6L428.0 451.3L432.6 454.0L437.1 450.1L441.7 446.7L447.4 443.3L453.1 438.7L457.7 434.1M588.0 531.4L589.6 522.6L589.9 513.0L588.8 503.4L589.6 493.8L590.4 484.2L591.2 477.8L593.6 473.8L594.4 465.0L596.8 461.5L599.5 463.4L600.5 468.2L601.6 473.8L604.0 481.0L606.4 489.0L607.5 497.0L608.8 505.0L610.7 509.8L613.3 509.0L615.5 508.2L618.4 512.2L621.9 516.2L622.9 522.6L623.5 529.0L624.5 535.4L624.5 538.0M579.2 433.0L582.4 436.2L588.0 437.5L594.4 438.1L597.9 440.2L601.6 437.8L604.0 434.6L604.3 433.0M631.2 433.0L634.4 437.0L637.6 441.0L640.8 445.8L642.4 449.0L645.6 450.6L652.0 452.2L658.4 453.5L662.4 455.4L664.0 458.3M649.6 433.0L652.0 437.0L655.2 437.8L657.6 436.2L658.4 439.4L656.8 441.8L660.0 443.4L663.5 444.5L662.4 449.0L664.0 450.3M588.6 529.7L586.3 537.7L584.0 544.6L582.9 550.7M606.9 500.0L608.0 504.6L609.8 508.7L613.7 508.0L616.0 509.1L619.0 512.6L622.2 516.5L622.9 522.9L624.0 529.7L625.1 536.6L627.4 542.3L629.7 548.0L629.7 557.1L630.9 564.0L633.1 569.7L636.6 573.1L640.0 575.4L642.7 577.7L644.6 581.1L646.4 583.7M436.4 340.0L438.8 338.9L442.0 339.5L444.4 341.1L441.2 342.4L437.7 342.1L436.4 340.0M462.0 337.9L465.2 334.7L468.7 338.9L462.0 337.9M467.1 357.6L470.0 355.5L474.8 354.4L480.4 353.6L485.2 355.5L489.2 357.6L492.4 361.6L492.7 366.4L489.2 365.6L485.2 363.5L480.4 361.9L475.6 361.3L470.8 360.8L468.4 359.7L467.1 357.6M538.0 356.0L535.6 358.4L532.4 359.2L529.2 357.6L527.6 354.4L526.0 350.4L524.4 348.5L518.8 349.6L513.2 351.2L508.4 352.0L503.6 352.8L506.8 356.0L509.2 360.0L510.0 364.8L511.9 368.8L514.0 368.0L515.6 365.6L517.2 363.2L519.6 365.6L522.8 368.0L526.0 370.4L530.0 373.6L534.0 375.2L538.0 376.0M509.2 320.0L506.8 322.4L502.8 324.0L498.8 327.2L495.6 330.4L493.2 333.6L497.2 336.0L501.2 339.2L502.8 344.0L506.8 345.6L513.2 345.3L518.0 344.0L519.9 342.7L520.4 346.4L522.0 348.8M518.8 325.6L521.2 329.6L522.0 336.0L521.2 342.4M525.2 389.1L526.8 393.6L526.0 400.0L523.6 406.4L521.2 408.3L521.5 401.6L522.8 395.2L525.2 389.1M498.8 411.5L500.1 415.2L498.8 419.2L496.4 422.1L495.9 417.6L497.2 413.6L498.8 411.5M449.2 417.9L453.2 416.8L455.6 417.3L454.0 420.8L451.6 422.7L448.9 421.6L449.2 417.9M441.6 293.0L443.2 295.1L442.4 298.4L439.9 302.6L437.4 306.8L433.2 310.1L428.1 311.8L422.3 310.1L417.3 308.8L411.4 308.5L405.5 309.3L401.3 310.1L398.8 311.8L398.0 316.0L398.8 320.2L400.5 325.2L401.3 329.4L403.0 333.6L407.2 334.4L409.7 330.3L413.1 328.6L418.1 326.9L422.3 325.2L425.6 324.4L427.3 326.9L424.8 329.4L420.6 331.9L416.4 335.3L413.1 338.6L410.5 341.1L411.4 345.3L413.9 349.5L415.9 353.7L417.6 358.7L418.9 363.8L420.6 368.8L422.3 373.8L424.3 378.9L424.8 383.9L423.1 388.9L420.6 391.4L418.1 388.9L417.6 383.9L416.9 379.7L414.7 378.9L413.6 381.4L412.2 378.9L411.9 373.8L409.7 370.5L407.2 367.1L405.5 362.1L405.2 357.1L405.9 352.9L403.8 352.0L401.3 353.7L399.7 356.2L399.2 360.4L400.2 365.4L399.7 370.5L398.5 376.3L398.8 382.2L398.5 388.1L397.1 391.4L394.6 391.9L392.4 389.7L391.8 383.9L392.4 377.2L393.5 370.5L392.4 365.4L390.8 363.8L387.9 363.4L386.7 358.7L386.2 353.7L387.9 348.7L389.1 343.7L389.6 337.0L390.4 331.1L392.9 326.9L395.5 323.5L396.3 318.5L395.8 312.7L397.1 306.8L402.2 305.9L403.8 302.6L404.7 299.2L408.0 298.4L412.2 300.9L417.3 303.4L423.1 304.8L428.1 303.8L433.2 301.8L436.5 298.4L439.0 295.1L441.6 293.0M436.5 339.5L439.9 338.6L444.1 341.1L440.7 342.8L437.0 342.0L436.5 339.5M450.8 359.6L454.1 357.9L458.3 358.7L460.0 362.1L458.3 366.3L455.0 367.1L452.1 363.8L450.8 359.6" fill="none" stroke="#0072BD" stroke-width="1.15" stroke-linejoin="round"/>
<path d="M128.5 214.7L180.0 215.0L240.0 216.0L252.0 216.5L277.0 217.7L330.0 218.5L392.0 219.3L433.0 217.5L478.0 216.2L487.0 214.3L512.0 214.2L520.0 213.0L605.0 213.0L612.0 214.6L640.0 215.8L665.0 217.0" fill="none" stroke="#000" stroke-width="2.1" stroke-dasharray="8.3 7.75"/>
<path d="M663.7 114.6L656.7 157.2L650.0 199.8L643.6 242.3L637.5 284.9L631.6 327.5L626.1 370.1L620.9 412.7L616.0 455.3L611.3 497.8L607.0 540.4L603.0 583.0" fill="none" stroke="#ff0000" stroke-width="1.1"/>
</g>
<g stroke="#262626" stroke-width="1.1" fill="none">
<rect x="128.5" y="49.5" width="536.0" height="533.0"/>
<line x1="218.5" y1="582.5" x2="218.5" y2="576.2"/>
<line x1="218.5" y1="49.5" x2="218.5" y2="55.8"/>
<line x1="307.5" y1="582.5" x2="307.5" y2="576.2"/>
<line x1="307.5" y1="49.5" x2="307.5" y2="55.8"/>
<line x1="396.5" y1="582.5" x2="396.5" y2="576.2"/>
<line x1="396.5" y1="49.5" x2="396.5" y2="55.8"/>
<line x1="485.5" y1="582.5" x2="485.5" y2="576.2"/>
<line x1="485.5" y1="49.5" x2="485.5" y2="55.8"/>
<line x1="574.5" y1="582.5" x2="574.5" y2="576.2"/>
<line x1="574.5" y1="49.5" x2="574.5" y2="55.8"/>
<line x1="128.5" y1="517.5" x2="134.8" y2="517.5"/>
<line x1="664.5" y1="517.5" x2="658.2" y2="517.5"/>
<line x1="128.5" y1="450.5" x2="134.8" y2="450.5"/>
<line x1="664.5" y1="450.5" x2="658.2" y2="450.5"/>
<line x1="128.5" y1="383.5" x2="134.8" y2="383.5"/>
<line x1="664.5" y1="383.5" x2="658.2" y2="383.5"/>
<line x1="128.5" y1="316.5" x2="134.8" y2="316.5"/>
<line x1="664.5" y1="316.5" x2="658.2" y2="316.5"/>
<line x1="128.5" y1="249.5" x2="134.8" y2="249.5"/>
<line x1="664.5" y1="249.5" x2="658.2" y2="249.5"/>
<line x1="128.5" y1="182.5" x2="134.8" y2="182.5"/>
<line x1="664.5" y1="182.5" x2="658.2" y2="182.5"/>
<line x1="128.5" y1="115.5" x2="134.8" y2="115.5"/>
<line x1="664.5" y1="115.5" x2="658.2" y2="115.5"/>
</g>
<g class="tx">
<g font-size="20.8">
<text transform="translate(128.7,613.0) scale(1,1.07)" text-anchor="middle">90</text>
<text transform="translate(218.0,613.0) scale(1,1.07)" text-anchor="middle">100</text>
<text transform="translate(307.4,613.0) scale(1,1.07)" text-anchor="middle">110</text>
<text transform="translate(396.7,613.0) scale(1,1.07)" text-anchor="middle">120</text>
<text transform="translate(486.0,613.0) scale(1,1.07)" text-anchor="middle">130</text>
<text transform="translate(575.3,613.0) scale(1,1.07)" text-anchor="middle">140</text>
<text transform="translate(664.7,613.0) scale(1,1.07)" text-anchor="middle">150</text>
<text transform="translate(120.4,592.2) scale(1,1.07)" text-anchor="end">-20</text>
<text transform="translate(120.4,525.3) scale(1,1.07)" text-anchor="end">-15</text>
<text transform="translate(120.4,458.4) scale(1,1.07)" text-anchor="end">-10</text>
<text transform="translate(120.4,391.5) scale(1,1.07)" text-anchor="end">-5</text>
<text transform="translate(120.4,324.6) scale(1,1.07)" text-anchor="end">0</text>
<text transform="translate(120.4,257.7) scale(1,1.07)" text-anchor="end">5</text>
<text transform="translate(120.4,190.9) scale(1,1.07)" text-anchor="end">10</text>
<text transform="translate(120.4,124.0) scale(1,1.07)" text-anchor="end">15</text>
<text transform="translate(120.4,57.1) scale(1,1.07)" text-anchor="end">20</text>
</g>
<text transform="translate(396.5,40.3) scale(1,1.07)" text-anchor="middle" font-size="22.9" font-weight="bold" style="fill:#000">09:00 UT</text>
<text transform="translate(397.0,644.2) scale(1,1.07)" text-anchor="middle" font-size="23.1">Geographic Lon. (°)</text>
<text transform="translate(77.2,316.0) rotate(-90) scale(1,1.07)" text-anchor="middle" font-size="23.0">Geographic Lat. (°)</text>
</g>
<g shape-rendering="crispEdges">
<rect x="698.5" y="575.35" width="32.0" height="8.85" fill="#00008f"/>
<rect x="698.5" y="567.01" width="32.0" height="8.85" fill="#00009f"/>
<rect x="698.5" y="558.66" width="32.0" height="8.85" fill="#0000af"/>
<rect x="698.5" y="550.31" width="32.0" height="8.85" fill="#0000bf"/>
<rect x="698.5" y="541.97" width="32.0" height="8.85" fill="#0000cf"/>
<rect x="698.5" y="533.62" width="32.0" height="8.85" fill="#0000df"/>
<rect x="698.5" y="525.27" width="32.0" height="8.85" fill="#0000ef"/>
<rect x="698.5" y="516.93" width="32.0" height="8.85" fill="#0000ff"/>
<rect x="698.5" y="508.58" width="32.0" height="8.85" fill="#0010ff"/>
<rect x="698.5" y="500.23" width="32.0" height="8.85" fill="#0020ff"/>
<rect x="698.5" y="491.88" width="32.0" height="8.85" fill="#0030ff"/>
<rect x="698.5" y="483.54" width="32.0" height="8.85" fill="#0040ff"/>
<rect x="698.5" y="475.19" width="32.0" height="8.85" fill="#0050ff"/>
<rect x="698.5" y="466.84" width="32.0" height="8.85" fill="#0060ff"/>
<rect x="698.5" y="458.50" width="32.0" height="8.85" fill="#0070ff"/>
<rect x="698.5" y="450.15" width="32.0" height="8.85" fill="#0080ff"/>
<rect x="698.5" y="441.80" width="32.0" height="8.85" fill="#008fff"/>
<rect x="698.5" y="433.46" width="32.0" height="8.85" fill="#009fff"/>
<rect x="698.5" y="425.11" width="32.0" height="8.85" fill="#00afff"/>
<rect x="698.5" y="416.76" width="32.0" height="8.85" fill="#00bfff"/>
<rect x="698.5" y="408.42" width="32.0" height="8.85" fill="#00cfff"/>
<rect x="698.5" y="400.07" width="32.0" height="8.85" fill="#00dfff"/>
<rect x="698.5" y="391.72" width="32.0" height="8.85" fill="#00efff"/>
<rect x="698.5" y="383.38" width="32.0" height="8.85" fill="#00ffff"/>
<rect x="698.5" y="375.03" width="32.0" height="8.85" fill="#10ffef"/>
<rect x="698.5" y="366.68" width="32.0" height="8.85" fill="#20ffdf"/>
<rect x="698.5" y="358.33" width="32.0" height="8.85" fill="#30ffcf"/>
<rect x="698.5" y="349.99" width="32.0" height="8.85" fill="#40ffbf"/>
<rect x="698.5" y="341.64" width="32.0" height="8.85" fill="#50ffaf"/>
<rect x="698.5" y="333.29" width="32.0" height="8.85" fill="#60ff9f"/>
<rect x="698.5" y="324.95" width="32.0" height="8.85" fill="#70ff8f"/>
<rect x="698.5" y="316.60" width="32.0" height="8.85" fill="#80ff80"/>
<rect x="698.5" y="308.25" width="32.0" height="8.85" fill="#8fff70"/>
<rect x="698.5" y="299.91" width="32.0" height="8.85" fill="#9fff60"/>
<rect x="698.5" y="291.56" width="32.0" height="8.85" fill="#afff50"/>
<rect x="698.5" y="283.21" width="32.0" height="8.85" fill="#bfff40"/>
<rect x="698.5" y="274.87" width="32.0" height="8.85" fill="#cfff30"/>
<rect x="698.5" y="266.52" width="32.0" height="8.85" fill="#dfff20"/>
<rect x="698.5" y="258.17" width="32.0" height="8.85" fill="#efff10"/>
<rect x="698.5" y="249.83" width="32.0" height="8.85" fill="#ffff00"/>
<rect x="698.5" y="241.48" width="32.0" height="8.85" fill="#ffef00"/>
<rect x="698.5" y="233.13" width="32.0" height="8.85" fill="#ffdf00"/>
<rect x="698.5" y="224.78" width="32.0" height="8.85" fill="#ffcf00"/>
<rect x="698.5" y="216.44" width="32.0" height="8.85" fill="#ffbf00"/>
<rect x="698.5" y="208.09" width="32.0" height="8.85" fill="#ffaf00"/>
<rect x="698.5" y="199.74" width="32.0" height="8.85" fill="#ff9f00"/>
<rect x="698.5" y="191.40" width="32.0" height="8.85" fill="#ff8f00"/>
<rect x="698.5" y="183.05" width="32.0" height="8.85" fill="#ff8000"/>
<rect x="698.5" y="174.70" width="32.0" height="8.85" fill="#ff7000"/>
<rect x="698.5" y="166.36" width="32.0" height="8.85" fill="#ff6000"/>
<rect x="698.5" y="158.01" width="32.0" height="8.85" fill="#ff5000"/>
<rect x="698.5" y="149.66" width="32.0" height="8.85" fill="#ff4000"/>
<rect x="698.5" y="141.32" width="32.0" height="8.85" fill="#ff3000"/>
<rect x="698.5" y="132.97" width="32.0" height="8.85" fill="#ff2000"/>
<rect x="698.5" y="124.62" width="32.0" height="8.85" fill="#ff1000"/>
<rect x="698.5" y="116.27" width="32.0" height="8.85" fill="#ff0000"/>
<rect x="698.5" y="107.93" width="32.0" height="8.85" fill="#ef0000"/>
<rect x="698.5" y="99.58" width="32.0" height="8.85" fill="#df0000"/>
<rect x="698.5" y="91.23" width="32.0" height="8.85" fill="#cf0000"/>
<rect x="698.5" y="82.89" width="32.0" height="8.85" fill="#bf0000"/>
<rect x="698.5" y="74.54" width="32.0" height="8.85" fill="#af0000"/>
<rect x="698.5" y="66.19" width="32.0" height="8.85" fill="#9f0000"/>
<rect x="698.5" y="57.85" width="32.0" height="8.85" fill="#8f0000"/>
<rect x="698.5" y="49.50" width="32.0" height="8.85" fill="#800000"/>
</g>
<rect x="698.5" y="49.5" width="32.0" height="533.0" fill="none" stroke="#262626" stroke-width="1.1"/>
<g stroke="#262626" stroke-width="1.1">
<line x1="730.5" y1="515.9" x2="725.3" y2="515.9"/>
<line x1="730.5" y1="449.2" x2="725.3" y2="449.2"/>
<line x1="730.5" y1="382.6" x2="725.3" y2="382.6"/>
<line x1="730.5" y1="316.0" x2="725.3" y2="316.0"/>
<line x1="730.5" y1="249.4" x2="725.3" y2="249.4"/>
<line x1="730.5" y1="182.8" x2="725.3" y2="182.8"/>
<line x1="730.5" y1="116.1" x2="725.3" y2="116.1"/>
</g>
<g class="tx"><g font-size="18.75">
<text transform="translate(739.0,591.2) scale(1,1.07)" text-anchor="start">0</text>
<text transform="translate(739.0,524.4) scale(1,1.07)" text-anchor="start">0.1</text>
<text transform="translate(739.0,457.5) scale(1,1.07)" text-anchor="start">0.2</text>
<text transform="translate(739.0,390.7) scale(1,1.07)" text-anchor="start">0.3</text>
<text transform="translate(739.0,323.8) scale(1,1.07)" text-anchor="start">0.4</text>
<text transform="translate(739.0,257.0) scale(1,1.07)" text-anchor="start">0.5</text>
<text transform="translate(739.0,190.1) scale(1,1.07)" text-anchor="start">0.6</text>
<text transform="translate(739.0,123.2) scale(1,1.07)" text-anchor="start">0.7</text>
<text transform="translate(739.0,56.4) scale(1,1.07)" text-anchor="start">0.8</text>
</g>
<text transform="translate(791.8,315.2) rotate(-90) scale(1,1.07)" text-anchor="middle" font-size="18.9">ROTI (TECU/min)</text>
</g>
</svg></body></html>
